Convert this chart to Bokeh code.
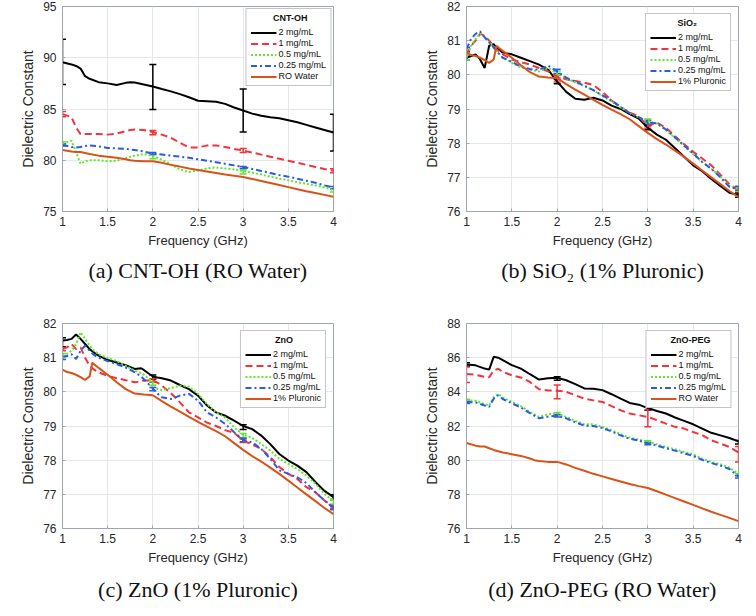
from bokeh.plotting import figure
from bokeh.models import (Range1d, FixedTicker, PrintfTickFormatter, Legend, LegendItem,
                          Whisker, TeeHead, ColumnDataSource, Title)
from bokeh.layouts import column, row
from bokeh.embed import file_html
from bokeh.resources import INLINE

# ---------------- data ----------------
series_labels = ["2 mg/mL", "1 mg/mL", "0.5 mg/mL", "0.25 mg/mL"]
err_freq = [1, 2, 3, 4]

# RO water (reference for CNT-OH and ZnO-PEG)
freq_ro = [1.0, 1.1, 1.15, 1.2, 1.25, 1.3, 1.4, 1.5, 1.6, 1.7, 1.75, 1.8, 1.9, 2.0, 2.1, 2.2, 2.3, 2.4,
           2.5, 2.6, 2.7, 2.8, 2.9, 3.0, 3.1, 3.2, 3.3, 3.4, 3.5, 3.6, 3.7, 3.8, 3.9, 4.0]
ro_water = [81.0, 80.85, 80.8, 80.8, 80.7, 80.6, 80.45, 80.35, 80.25, 80.1, 80.0, 79.95, 79.9, 79.9,
            79.75, 79.55, 79.38, 79.2, 79.05, 78.9, 78.75, 78.6, 78.48, 78.37, 78.18, 77.98, 77.78,
            77.58, 77.38, 77.18, 76.98, 76.8, 76.62, 76.43]

# 1% Pluronic (reference for SiO2 and ZnO)
freq_pl = [1.0, 1.05, 1.1, 1.15, 1.2, 1.25, 1.3, 1.33, 1.4, 1.5, 1.6, 1.7, 1.8, 1.9, 2.0, 2.1, 2.2,
           2.3, 2.4, 2.5, 2.6, 2.7, 2.8, 2.9, 3.0, 3.1, 3.2, 3.3, 3.4, 3.5, 3.6, 3.7, 3.8, 3.9, 4.0]
pluronic = [80.65, 80.58, 80.55, 80.5, 80.43, 80.35, 80.45, 80.85, 80.7, 80.5, 80.28, 80.08, 79.95,
            79.92, 79.9, 79.73, 79.57, 79.42, 79.27, 79.12, 78.98, 78.85, 78.7, 78.5, 78.3, 78.12,
            77.96, 77.78, 77.6, 77.4, 77.2, 77.0, 76.8, 76.6, 76.42]

# (a) CNT-OH
freq_a = freq_ro
cnt_2 = [89.56, 89.35, 89.2, 88.95, 88.2, 87.95, 87.62, 87.5, 87.35, 87.55, 87.62, 87.58, 87.4, 87.2,
         86.95, 86.72, 86.45, 86.15, 85.8, 85.75, 85.7, 85.5, 85.15, 84.85, 84.55, 84.35, 84.2, 84.1,
         83.9, 83.7, 83.45, 83.2, 82.95, 82.7]
cnt_1 = [84.5, 84.2, 83.2, 82.55, 82.55, 82.55, 82.55, 82.5, 82.6, 82.85, 82.95, 83.0, 82.95, 82.75,
         82.5, 82.2, 81.7, 81.25, 81.25, 81.45, 81.45, 81.3, 81.1, 80.95, 80.75, 80.55, 80.35, 80.15,
         79.95, 79.75, 79.55, 79.35, 79.15, 78.97]
cnt_05 = [81.66, 81.9, 80.8, 79.65, 79.9, 80.0, 80.0, 79.9, 79.95, 80.2, 80.35, 80.45, 80.6, 80.45,
          80.05, 79.6, 79.1, 78.85, 79.0, 79.2, 79.3, 79.2, 79.1, 78.95, 78.8, 78.6, 78.4, 78.2,
          78.05, 77.85, 77.7, 77.55, 77.35, 77.1]
cnt_025 = [81.5, 81.3, 81.25, 81.3, 81.4, 81.45, 81.35, 81.2, 81.15, 81.1, 81.05, 81.0, 80.85, 80.65,
           80.55, 80.45, 80.35, 80.25, 80.1, 79.95, 79.8, 79.65, 79.5, 79.35, 79.15, 78.95, 78.75,
           78.55, 78.4, 78.2, 78.0, 77.8, 77.55, 77.33]
cnt_err_mid = [[89.6, 87.15, 84.85, 82.7], [84.5, 82.7, 80.95, 78.97],
               [81.66, 80.35, 78.85, 77.05], [81.5, 80.65, 79.3, 77.33]]
cnt_err_half = [[2.2, 2.2, 2.1, 1.8], [0.25, 0.2, 0.2, 0.2],
                [0.15, 0.2, 0.2, 0.15], [0.1, 0.1, 0.1, 0.1]]

# (b) SiO2
freq_b = freq_pl
sio_2 = [80.5, 80.55, 80.6, 80.45, 80.2, 80.85, 80.9, 80.8, 80.65, 80.6, 80.5, 80.4, 80.3, 80.15,
         79.8, 79.5, 79.3, 79.27, 79.33, 79.25, 79.1, 79.0, 78.85, 78.72, 78.45, 78.25, 78.1, 77.85,
         77.6, 77.35, 77.18, 76.95, 76.75, 76.55, 76.48]
sio_1 = [80.6, 80.85, 81.0, 81.2, 81.15, 81.0, 80.85, 80.75, 80.6, 80.45, 80.37, 80.3, 80.2, 80.1,
         79.95, 79.87, 79.82, 79.77, 79.7, 79.5, 79.25, 79.05, 78.9, 78.78, 78.5, 78.6, 78.45, 78.2,
         77.97, 77.75, 77.55, 77.35, 77.08, 76.8, 76.62]
sio_05 = [80.5, 80.85, 81.05, 81.22, 81.12, 80.95, 80.8, 80.7, 80.5, 80.35, 80.22, 80.15, 80.1, 80.2,
          80.05, 79.9, 79.78, 79.67, 79.55, 79.38, 79.22, 79.05, 78.88, 78.75, 78.65, 78.57, 78.38,
          78.15, 77.92, 77.68, 77.45, 77.25, 77.02, 76.75, 76.65]
sio_025 = [80.75, 81.05, 81.2, 81.27, 81.1, 80.95, 80.8, 80.7, 80.5, 80.38, 80.24, 80.17, 80.15,
           80.27, 80.1, 79.92, 79.8, 79.68, 79.55, 79.4, 79.25, 79.06, 78.88, 78.76, 78.6, 78.58,
           78.4, 78.17, 77.93, 77.7, 77.45, 77.25, 77.0, 76.72, 76.65]
sio_err_mid = [[80.5, 79.8, 78.45, 76.48], [80.6, 79.85, 78.5, 76.65],
               [80.5, 80.05, 78.65, 76.65], [80.75, 80.1, 78.6, 76.68]]
sio_err_half = [[0.06] * 4, [0.06] * 4, [0.06] * 4, [0.06] * 4]

# (c) ZnO
freq_c = [1.0, 1.05, 1.1, 1.15, 1.2, 1.25, 1.3, 1.35, 1.4, 1.5, 1.6, 1.7, 1.8, 1.87, 1.9, 2.0, 2.05,
          2.1, 2.2, 2.3, 2.4, 2.5, 2.6, 2.7, 2.8, 2.9, 3.0, 3.1, 3.2, 3.3, 3.4, 3.5, 3.6, 3.7, 3.8,
          3.9, 4.0]
zno_2 = [81.5, 81.52, 81.55, 81.68, 81.55, 81.4, 81.25, 81.15, 81.06, 80.93, 80.86, 80.78, 80.67,
         80.69, 80.64, 80.45, 80.42, 80.4, 80.33, 80.2, 80.08, 79.89, 79.6, 79.4, 79.3, 79.16, 79.0,
         78.91, 78.72, 78.47, 78.18, 77.99, 77.84, 77.65, 77.36, 77.1, 76.92]
zno_1 = [81.25, 81.3, 81.4, 81.25, 81.3, 81.0, 80.76, 80.65, 80.57, 80.47, 80.4, 80.34, 80.28, 80.3,
         80.33, 80.33, 80.27, 80.18, 79.96, 79.69, 79.4, 79.25, 79.1, 79.0, 78.88, 78.8, 78.57,
         78.46, 78.33, 78.09, 77.8, 77.6, 77.45, 77.21, 77.06, 76.82, 76.64]
zno_05 = [81.06, 81.12, 81.2, 81.4, 81.74, 81.55, 81.35, 81.2, 81.1, 80.99, 80.9, 80.76, 80.62,
          80.55, 80.5, 80.28, 80.08, 80.05, 80.11, 80.18, 80.15, 79.94, 79.64, 79.4, 79.25, 78.96,
          78.75, 78.65, 78.47, 78.28, 78.04, 77.89, 77.74, 77.55, 77.31, 77.01, 76.8]
zno_025 = [81.0, 81.05, 81.1, 80.96, 81.2, 81.35, 81.2, 81.08, 81.0, 80.9, 80.81, 80.71, 80.57,
           80.45, 80.37, 80.1, 79.95, 79.84, 79.79, 79.89, 79.94, 79.74, 79.4, 79.25, 79.06, 78.82,
           78.59, 78.52, 78.33, 78.04, 77.7, 77.6, 77.5, 77.33, 77.06, 76.82, 76.6]
zno_err_mid = [[81.45, 80.43, 78.97, 76.92], [81.25, 80.33, 78.57, 76.64],
               [81.06, 80.25, 78.72, 76.78], [81.0, 80.08, 78.59, 76.6]]
zno_err_half = [[0.13, 0.06, 0.07, 0.07], [0.05] * 4, [0.06] * 4, [0.05] * 4]

# (d) ZnO-PEG
freq_d = [1.0, 1.1, 1.2, 1.25, 1.3, 1.35, 1.4, 1.5, 1.6, 1.7, 1.8, 1.9, 2.0, 2.1, 2.2, 2.3, 2.4, 2.5,
          2.6, 2.7, 2.8, 2.9, 3.0, 3.1, 3.2, 3.3, 3.4, 3.5, 3.6, 3.7, 3.8, 3.9, 4.0]
peg_2 = [85.6, 85.55, 85.36, 85.3, 86.05, 86.0, 85.85, 85.56, 85.36, 85.03, 84.72, 84.8, 84.82,
         84.68, 84.45, 84.2, 84.18, 84.1, 83.86, 83.6, 83.35, 83.25, 83.05, 82.88, 82.73, 82.5, 82.3,
         82.1, 81.85, 81.6, 81.45, 81.3, 81.1]
peg_1 = [85.05, 85.0, 84.88, 84.85, 85.25, 85.35, 85.17, 84.97, 84.84, 84.58, 84.15, 84.08, 84.07,
         84.0, 83.8, 83.6, 83.5, 83.41, 83.16, 82.92, 82.73, 82.63, 82.53, 82.34, 82.14, 81.95,
         81.85, 81.65, 81.46, 81.16, 80.97, 80.77, 80.45]
peg_05 = [83.5, 83.48, 83.27, 83.2, 83.7, 83.88, 83.66, 83.41, 83.16, 82.82, 82.53, 82.69, 82.75,
          82.53, 82.3, 82.1, 82.1, 81.95, 81.75, 81.52, 81.32, 81.2, 81.1, 80.93, 80.77, 80.64,
          80.48, 80.34, 80.09, 79.9, 79.76, 79.56, 79.2]
peg_025 = [83.4, 83.38, 83.2, 83.12, 83.6, 83.8, 83.58, 83.33, 83.08, 82.75, 82.45, 82.55, 82.6,
           82.45, 82.22, 82.02, 82.0, 81.88, 81.68, 81.45, 81.25, 81.15, 80.98, 80.85, 80.7, 80.56,
           80.4, 80.25, 80.02, 79.83, 79.68, 79.48, 79.05]
peg_err_mid = [[85.6, 84.78, 83.02, 81.05], [85.0, 84.0, 82.45, 80.35],
               [83.5, 82.72, 81.07, 79.15], [83.38, 82.6, 80.97, 79.03]]
peg_err_half = [[0.1] * 4, [0.45, 0.4, 0.5, 0.45], [0.07] * 4, [0.07] * 4]

# ---------------- style ----------------
COLORS = ["#000000", "#f2333b", "#5fe82a", "#2a5ae8", "#d95319"]
DASHES = ["solid", "7 4", "2 2", "6 3 2 3", "solid"]
SANS = "Liberation Sans"
SERIF = "Liberation Serif"
AX_GRAY = "#9ea6ae"
TXT = "#262626"


def panel(freq, curves, ref_freq, ref_vals, ref_label, err_mid, err_half, leg_title, caption,
          yr, ystep, width, height, bl, br, bt, bb, leg_margin, pad_n, cap_standoff):
    p = figure(width=width, height=height, output_backend="svg", toolbar_location=None,
               title=None, x_range=Range1d(1, 4), y_range=Range1d(*yr),
               min_border_left=bl, min_border_right=br, min_border_top=bt, min_border_bottom=bb)
    p.outline_line_color = AX_GRAY
    p.outline_line_width = 1
    p.background_fill_color = "white"
    p.border_fill_color = "white"
    p.xaxis.ticker = FixedTicker(ticks=[1, 1.5, 2, 2.5, 3, 3.5, 4])
    yt = []
    v = yr[0]
    while v <= yr[1] + 1e-9:
        yt.append(v)
        v += ystep
    p.yaxis.ticker = FixedTicker(ticks=yt)
    p.xaxis.formatter = PrintfTickFormatter(format="%g")
    p.yaxis.formatter = PrintfTickFormatter(format="%g")
    for ax in (p.xaxis, p.yaxis):
        ax.axis_line_color = AX_GRAY
        ax.major_tick_line_color = AX_GRAY
        ax.major_tick_in = 3
        ax.major_tick_out = 0
        ax.minor_tick_line_color = None
        ax.major_label_text_font = SANS
        ax.major_label_text_font_size = "12px"
        ax.major_label_text_color = TXT
        ax.axis_label_text_font = SANS
        ax.axis_label_text_font_style = "normal"
        ax.axis_label_text_color = TXT
    p.xaxis.axis_label = "Frequency (GHz)"
    p.yaxis.axis_label = "Dielectric Constant"
    p.xaxis.axis_label_text_font_size = "13px"
    p.yaxis.axis_label_text_font_size = "14px"
    p.xaxis.major_label_standoff = 5
    p.yaxis.major_label_standoff = 6
    p.xaxis.axis_label_standoff = 4
    p.yaxis.axis_label_standoff = 4
    p.grid.grid_line_color = "#e4e8ec"
    p.grid.grid_line_width = 1

    items = []
    renderers = []
    for i, ys in enumerate(curves):
        r = p.line(freq, ys, line_color=COLORS[i], line_width=2, line_dash=DASHES[i])
        renderers.append(r)
    rr = p.line(ref_freq, ref_vals, line_color=COLORS[4], line_width=2)
    renderers.append(rr)

    for i in range(4):
        mid = err_mid[i]
        half = err_half[i]
        src = ColumnDataSource(dict(base=err_freq,
                                    upper=[m + h for m, h in zip(mid, half)],
                                    lower=[m - h for m, h in zip(mid, half)]))
        w = Whisker(base="base", upper="upper", lower="lower", source=src, dimension="height",
                    line_color=COLORS[i], line_width=1.5,
                    upper_head=TeeHead(size=7, line_color=COLORS[i], line_width=1.5),
                    lower_head=TeeHead(size=7, line_color=COLORS[i], line_width=1.5))
        p.add_layout(w)

    labels = series_labels + [ref_label]
    for lab, r in zip(labels, renderers):
        items.append(LegendItem(label=lab, renderers=[r]))
    leg = Legend(items=items, location="top_right", title="\u00a0" * pad_n + leg_title)
    leg.title_text_font = SANS
    leg.title_text_font_size = "9px"
    leg.title_text_font_style = "bold"
    leg.title_text_color = "#111111"
    leg.title_standoff = 4
    leg.label_text_font = SANS
    leg.label_text_font_size = "9px"
    leg.label_text_color = "#111111"
    leg.label_height = 9
    leg.glyph_height = 9
    leg.glyph_width = 26
    leg.label_standoff = 2
    leg.spacing = 1
    leg.padding = 4
    leg.margin = leg_margin
    leg.border_line_color = "#8a8a8a"
    leg.border_line_width = 1
    leg.background_fill_color = "white"
    leg.background_fill_alpha = 1
    p.add_layout(leg)

    cap = Title(text=caption, align="center", text_font=SERIF, text_font_size="22px",
                text_font_style="normal", text_color="#111111", standoff=cap_standoff)
    p.add_layout(cap, "below")
    return p


pa = panel(freq_a, [cnt_2, cnt_1, cnt_05, cnt_025], freq_ro, ro_water, "RO Water",
           cnt_err_mid, cnt_err_half, "CNT-OH", "(a) CNT-OH (RO Water)",
           (75, 95), 5, 378, 317, 62, 45, 6, 106, 2, 9, 10)
pb = panel(freq_b, [sio_2, sio_1, sio_05, sio_025], freq_pl, pluronic, "1% Pluronic",
           sio_err_mid, sio_err_half, "SiO\u2082", "(b) SiO\u2082 (1% Pluronic)",
           (76, 82), 1, 366, 317, 88, 6, 6, 106, 7, 11, 10)
pc = panel(freq_c, [zno_2, zno_1, zno_05, zno_025], freq_pl, pluronic, "1% Pluronic",
           zno_err_mid, zno_err_half, "ZnO", "(c) ZnO (1% Pluronic)",
           (76, 82), 1, 378, 292, 62, 45, 6, 81, 7, 12, 15)
pd_ = panel(freq_d, [peg_2, peg_1, peg_05, peg_025], freq_ro, ro_water, "RO Water",
            peg_err_mid, peg_err_half, "ZnO-PEG", "(d) ZnO-PEG (RO Water)",
            (76, 88), 2, 366, 292, 88, 6, 6, 81, 7, 8, 15)

layout = column(row(pa, pb), row(pc, pd_))
open("out.html", "w").write(file_html(layout, INLINE))
